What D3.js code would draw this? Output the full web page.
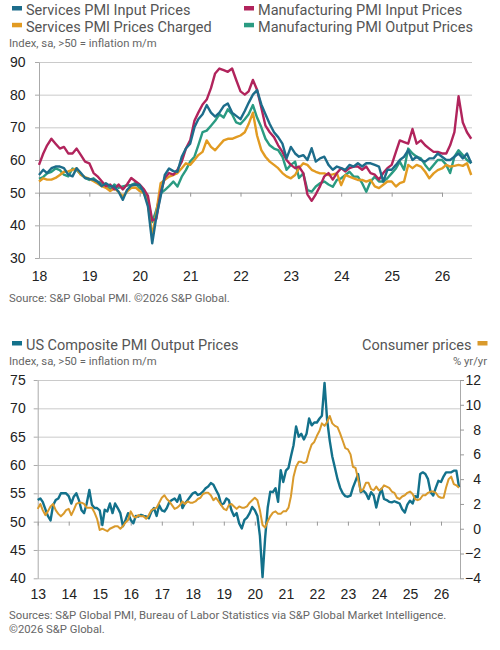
<!DOCTYPE html>
<html>
<head>
<meta charset="utf-8">
<script src="https://cdn.jsdelivr.net/npm/d3@7"></script>
<style>
  body { margin: 0; background: #fff; }
  svg { display: block; font-family: "Liberation Sans", Arial, sans-serif; }
  .legend { font-family: Roboto, sans-serif; font-size: 14.5px; fill: #555; }
  .note { font-family: Roboto, sans-serif; font-size: 11.3px; fill: #666; }
  .tick text { font-size: 14px; fill: #222; }
</style>
</head>
<body>
<div id="chart"></div>
<script>
// tick labels
var topYears = ["18", "19", "20", "21", "22", "23", "24", "25", "26"];
var bottomYears = ["13", "14", "15", "16", "17", "18", "19", "20", "21", "22", "23", "24", "25", "26"];
var topYTicks = [30, 40, 50, 60, 70, 80, 90];
var pmiTicks = [40, 45, 50, 55, 60, 65, 70, 75];
var cpiTicks = [-4, -2, 0, 2, 4, 6, 8, 10, 12];

// top panel, monthly Jan 2018 - Aug 2026
var servicesInput = [
  55.4, 57, 56, 57.5, 58, 58, 57.5, 55.5, 55, 57.5, 56, 54.5,
  54.2, 54, 53.4, 52, 52.9, 52, 51.9, 50.3, 47.8, 50.8, 52.2, 52.5,
  52.4, 49.8, 45.7, 34.5, 42.7, 48.8, 55.4, 57.4, 56.6, 56.4, 61, 63.5,
  65, 70, 72.5, 74, 76.8, 74.5, 73.3, 74.5, 76.5, 77.3, 74.5, 73.5,
  72.5, 75, 77.5, 80, 81.4, 77, 74, 71, 68.5, 67, 65, 60.5,
  64, 62, 61, 61.5, 60, 63.6, 59.5, 60.5, 61, 58.5, 57, 58,
  57.5, 57, 58.5, 58, 59, 58, 59, 59, 58.5, 58, 53.4, 57,
  57, 58.5, 60, 61, 63, 60, 61, 60, 59.5, 60.5, 60.5, 62,
  61, 60, 60, 61, 62, 60.5, 62, 59
];
var servicesCharged = [
  53.4, 54.4, 54, 54, 54.5, 55.4, 56.4, 56.5, 57, 57.4, 55.4, 54.8,
  54.2, 53.5, 52.8, 52, 51.5, 50.5, 51.3, 50.3, 48.8, 50.3, 51.5, 51.6,
  50.5, 49.8, 46.8, 36.6, 44, 52.9, 53.9, 54.9, 55.4, 56, 57.5, 59,
  58.5, 60, 61.5, 62.5, 66, 64, 63, 64.5, 66, 66.5, 66.5, 67,
  67.5, 68.5, 71, 74.5, 67.5, 63, 61, 59.5, 58.5, 57.5, 56, 55,
  54.4, 55.4, 57.5, 59, 58.5, 57, 56.4, 55.9, 55.9, 55.4, 55.6, 55.9,
  52.3, 55.4, 54.9, 54.4, 53.9, 53.9, 53.4, 53.9, 51.9, 51.4, 52.4, 53.4,
  53.4, 51.9, 52.9, 53.4, 58.5, 57.5, 58.5, 58, 56.4, 54.4, 55.9, 56.9,
  57.4, 58.5, 58, 58.2, 58.5, 58.2, 59, 55.4
];
var mfgInput = [
  58.5, 62, 64.5, 66.5, 65, 63.5, 64, 62, 62, 63.5, 61.5, 59.5,
  59, 56, 55, 53.5, 52, 52.5, 51, 52.5, 51, 52.5, 54.5, 53.5,
  52.5, 51, 49, 41.5, 42, 50, 54.5, 56, 55.5, 57, 59.5, 63.5,
  66, 72, 74.5, 77, 78.5, 82, 86.5, 88, 87.5, 87, 88, 84.5,
  81, 80, 81, 84.5, 81.5, 76, 70.5, 68.5, 67, 64.5, 62.5, 60,
  58.5, 57.5, 58, 56, 49.5, 47.5, 49.5, 52, 55, 56, 54, 56,
  57.5, 56.5, 57.5, 58, 58, 57, 58, 56, 55.5, 54, 56, 57.5,
  58.5, 62.5, 66, 65.5, 65, 69.5, 65, 66, 64.5, 63.5, 62.5, 62.5,
  62, 62, 64.5, 68.5, 79.5, 71.5, 68.5, 66.5
];
var mfgOutput = [
  54.2, 54.8, 55.9, 56.4, 57.4, 56.9, 55.5, 55, 57.4, 56.9, 55.6, 54.5,
  53.9, 54.4, 53.4, 52.9, 52.4, 51, 52.5, 51.5, 51.9, 52.2, 52.4, 52.9,
  51.3, 50.8, 47.8, 41, 44.7, 49.8, 50.8, 52, 53.4, 51.9, 54.9, 56.9,
  59.5, 61, 64.5, 68.5, 69, 70.5, 72, 74, 73, 75.5, 74, 71.5,
  71, 72.5, 74, 76.8, 73, 70, 66.5, 64.5, 63.5, 63, 61, 57,
  58.5, 59.5, 54.5, 55.9, 50.8, 50.3, 51.9, 52.9, 53.4, 52.5, 51.8, 53.9,
  54.4, 55.4, 56.4, 54.9, 54.9, 52.9, 50.3, 53.4, 54.9, 53.4, 53.4, 54.4,
  55.9, 57.4, 59.5, 57, 63.5, 62, 61, 60.5, 58.5, 56.9, 58.5, 60,
  60, 58.5, 56, 61, 63, 61.5, 60, 59
];

// bottom panel, monthly Jan 2013 - Aug 2026
var usCompositeOutput = [
  53.8, 54.1, 53.5, 52.2, 51, 50.2, 52.9, 53.8, 54.1, 55, 55, 55,
  54.5, 53.2, 54.4, 55, 53.8, 52, 51.5, 53.2, 55.6, 53, 52.4, 52.4,
  52, 49.4, 52.1, 51.8, 53.2, 51.5, 53.2, 52.4, 51.5, 49.2, 50.3, 51.5,
  50.3, 49.7, 51, 50.9, 51.2, 51, 50.9, 50.6, 51.8, 52.4, 51, 52.9,
  52, 51.8, 52.4, 53.5, 53.8, 54.1, 53.5, 54.7, 52.4, 53.2, 53.8, 54.4,
  55, 55.2, 54.7, 54.9, 55.3, 55.9, 56.2, 56.8, 56.5, 55.6, 54.7, 53,
  53.2, 54.1, 53.8, 52, 51, 51.5, 49.7, 48.8, 50.3, 50.7, 51.5, 52.6,
  52, 51, 47.5, 40.2, 47, 52.5, 55.3, 55.2, 55.9, 53.5, 59.1, 57,
  59, 59.5, 61.5, 63.5, 66.8, 65, 65.5, 64.5, 65.5, 68.2, 67, 67.5,
  67.5, 68.2, 68.7, 74.5, 68, 64.3, 61.5, 59.5, 57.5, 56, 55, 54.5,
  54.4, 54.6, 56, 57.2, 58.4, 55.2, 55.5, 55, 54, 55.2, 54.6, 52.5,
  54.5, 55.8, 54, 53.8, 53.5, 53.4, 53.6, 53.4, 53.2, 52.2, 51.6, 53,
  53.7, 53.2, 54.5, 54.3, 58.4, 58.7, 58.4, 57.5, 55.2, 54.6, 56, 57.2,
  57, 58, 58.7, 58.7, 58.7, 59, 59, 56.1
];
var consumerPrices = [
  1.6, 2.0, 1.5, 1.1, 1.4, 1.8, 2.0, 1.5, 1.2, 1.0, 1.2, 1.5,
  1.6, 1.1, 1.5, 2.0, 2.1, 2.1, 2.0, 1.7, 1.7, 1.7, 1.3, 0.8,
  -0.1, 0.0, -0.1, -0.2, 0.0, 0.1, 0.2, 0.2, 0.0, 0.2, 0.5, 0.7,
  1.4, 1.0, 0.9, 1.1, 1.0, 1.0, 0.8, 1.1, 1.5, 1.6, 1.7, 2.1,
  2.5, 2.7, 2.4, 2.2, 1.9, 1.6, 1.7, 1.9, 2.2, 2.0, 2.2, 2.1,
  2.1, 2.2, 2.4, 2.5, 2.8, 2.9, 2.9, 2.7, 2.3, 2.5, 2.2, 1.9,
  1.6, 1.5, 1.9, 2.0, 1.8, 1.6, 1.8, 1.7, 1.7, 1.8, 2.1, 2.3,
  2.5, 2.3, 1.5, 0.3, 0.1, 0.6, 1.0, 1.3, 1.4, 1.2, 1.2, 1.4,
  1.4, 1.7, 2.6, 4.2, 5.0, 5.4, 5.4, 5.3, 5.4, 6.2, 6.8, 7.0,
  7.5, 7.9, 8.5, 8.3, 8.6, 9.1, 8.5, 8.3, 8.2, 7.7, 7.1, 6.5,
  6.4, 6.0, 5.0, 4.9, 4.0, 3.0, 3.2, 3.7, 3.7, 3.2, 3.1, 3.4,
  3.1, 3.2, 3.5, 3.4, 3.3, 3.0, 2.9, 2.5, 2.4, 2.6, 2.7, 2.9,
  3.0, 2.8, 2.4, 2.3, 2.4, 2.7, 2.7, 2.9, 3.0, 3.0, 2.9, 2.6,
  2.5, 2.5, 3.3, 4.0, 4.2, 3.6, 3.5, 3.3
];

var colors = {
  servicesInput: "#1d6d8b",
  servicesCharged: "#e29b22",
  mfgInput: "#b1245c",
  mfgOutput: "#2a9b82",
  pmi: "#13718b",
  cpi: "#d99a2c"
};

function monthDates(startYear, n) {
  return d3.range(n).map(function (i) { return new Date(startYear, i, 1); });
}

function yearDates(labels) {
  return labels.map(function (l) { return new Date(2000 + (+l), 0, 1); });
}

var svg = d3.select("#chart").append("svg")
  .attr("width", 500)
  .attr("height", 650);

function legendItem(x, y, color, label, anchor) {
  var g = svg.append("g");
  g.append("text")
    .attr("class", "legend")
    .attr("x", x)
    .attr("y", y)
    .attr("text-anchor", anchor || "start")
    .text(label);
  var sx = anchor === "end" ? x + 6 : x - 14;
  g.append("rect")
    .attr("x", sx).attr("y", y - 9)
    .attr("width", 10).attr("height", 4.5)
    .attr("fill", color);
}

/* ---------- top panel ---------- */
var topLeft = 39, topRight = 472;
var topDates = monthDates(2018, servicesInput.length);

var xTop = d3.scaleTime()
  .domain([new Date(2018, 0, 1), new Date(2026, 0, 1)])
  .range([topLeft, 442]);

var yTop = d3.scaleLinear()
  .domain([30, 90])
  .range([258, 62]);

legendItem(26, 15, colors.servicesInput, "Services PMI Input Prices");
legendItem(26, 31.8, colors.servicesCharged, "Services PMI Prices Charged");
legendItem(258, 15, colors.mfgInput, "Manufacturing PMI Input Prices");
legendItem(258, 31.8, colors.mfgOutput, "Manufacturing PMI Output Prices");

svg.append("text").attr("class", "note")
  .attr("x", 9).attr("y", 46.5)
  .text("Index, sa, >50 = inflation m/m");

// gridlines
svg.append("g")
  .attr("transform", "translate(" + topLeft + ",0)")
  .call(d3.axisLeft(yTop).tickValues(topYTicks).tickSize(-(topRight - topLeft)).tickFormat(""))
  .call(function (g) { g.select(".domain").remove(); })
  .selectAll("line").attr("stroke", "#cacaca");

// left axis
svg.append("g")
  .attr("transform", "translate(" + topLeft + ",0)")
  .call(d3.axisLeft(yTop).tickValues(topYTicks).tickSizeInner(4).tickSizeOuter(0).tickPadding(9.5))
  .call(function (g) {
    g.select(".domain").attr("stroke", "#aaa");
    g.selectAll("line").attr("stroke", "#aaa");
  });

// year ticks on the 50 line
svg.append("g")
  .attr("transform", "translate(0," + yTop(50) + ")")
  .call(d3.axisBottom(xTop).tickValues(yearDates(topYears)).tickSize(4).tickFormat(""))
  .call(function (g) {
    g.select(".domain").attr("stroke", "#aaa");
    g.selectAll("line").attr("stroke", "#999");
  });

// year labels
svg.append("g")
  .attr("transform", "translate(0,271)")
  .call(d3.axisBottom(xTop).tickValues(yearDates(topYears)).tickSize(0).tickPadding(0)
    .tickFormat(function (d, i) { return topYears[i]; }))
  .call(function (g) { g.select(".domain").remove(); });

var topLine = function (values) {
  return d3.line()
    .x(function (d, i) { return xTop(topDates[i]); })
    .y(function (d) { return yTop(d); })(values);
};

[
  [mfgOutput, colors.mfgOutput],
  [servicesCharged, colors.servicesCharged],
  [mfgInput, colors.mfgInput],
  [servicesInput, colors.servicesInput]
].forEach(function (s) {
  svg.append("path")
    .attr("fill", "none")
    .attr("stroke", s[1])
    .attr("stroke-width", 2.4)
    .attr("stroke-linejoin", "round")
    .attr("d", topLine(s[0]));
});

svg.append("text").attr("class", "note")
  .attr("x", 9).attr("y", 302)
  .text("Source: S&P Global PMI. \u00a92026 S&P Global.");

/* ---------- bottom panel ---------- */
var botLeft = 37.7, botRight = 460;
var botDates = monthDates(2013, usCompositeOutput.length);

var xBot = d3.scaleTime()
  .domain([new Date(2013, 0, 1), new Date(2026, 0, 1)])
  .range([botLeft, 441]);

var yPmi = d3.scaleLinear()
  .domain([40, 75])
  .range([578.3, 380]);

var yCpi = d3.scaleLinear()
  .domain([-4, 12])
  .range([578.3, 380]);

legendItem(26, 350, colors.pmi, "US Composite PMI Output Prices");
legendItem(471.5, 350, colors.cpi, "Consumer prices", "end");

svg.append("text").attr("class", "note")
  .attr("x", 9).attr("y", 365)
  .text("Index, sa, >50 = inflation m/m");
svg.append("text").attr("class", "note")
  .attr("x", 487).attr("y", 365)
  .attr("text-anchor", "end")
  .text("% yr/yr");

svg.append("g")
  .attr("transform", "translate(" + botLeft + ",0)")
  .call(d3.axisLeft(yPmi).tickValues(pmiTicks).tickSize(-(botRight - botLeft)).tickFormat(""))
  .call(function (g) { g.select(".domain").remove(); })
  .selectAll("line").attr("stroke", "#cacaca");

svg.append("g")
  .attr("transform", "translate(" + botLeft + ",0)")
  .call(d3.axisLeft(yPmi).tickValues(pmiTicks).tickSizeInner(4).tickSizeOuter(0).tickPadding(8))
  .call(function (g) {
    g.select(".domain").attr("stroke", "#aaa");
    g.selectAll("line").attr("stroke", "#aaa");
  });

svg.append("g")
  .attr("transform", "translate(" + botRight + ",0)")
  .call(d3.axisRight(yCpi).tickValues(cpiTicks).tickSizeInner(4).tickSizeOuter(0).tickPadding(17))
  .call(function (g) {
    g.select(".domain").attr("stroke", "#aaa");
    g.selectAll("line").attr("stroke", "#999");
    g.selectAll("text").attr("text-anchor", "end");
  });

svg.append("g")
  .attr("transform", "translate(0," + yPmi(50) + ")")
  .call(d3.axisBottom(xBot).tickValues(yearDates(bottomYears)).tickSize(4).tickFormat(""))
  .call(function (g) {
    g.select(".domain").remove();
    g.selectAll("line").attr("stroke", "#999");
  });

svg.append("g")
  .attr("transform", "translate(0,589)")
  .call(d3.axisBottom(xBot).tickValues(yearDates(bottomYears)).tickSize(0).tickPadding(0)
    .tickFormat(function (d, i) { return bottomYears[i]; }))
  .call(function (g) { g.select(".domain").remove(); });

svg.append("path")
  .attr("fill", "none")
  .attr("stroke", colors.pmi)
  .attr("stroke-width", 2.4)
  .attr("stroke-linejoin", "round")
  .attr("d", d3.line()
    .x(function (d, i) { return xBot(botDates[i]); })
    .y(function (d) { return yPmi(d); })(usCompositeOutput));

svg.append("path")
  .attr("fill", "none")
  .attr("stroke", colors.cpi)
  .attr("stroke-width", 2)
  .attr("stroke-linejoin", "round")
  .attr("d", d3.line()
    .x(function (d, i) { return xBot(botDates[i]); })
    .y(function (d) { return yCpi(d); })(consumerPrices));

svg.append("text").attr("class", "note")
  .attr("x", 9).attr("y", 618.5)
  .text("Sources: S&P Global PMI, Bureau of Labor Statistics via S&P Global Market Intelligence.");
svg.append("text").attr("class", "note")
  .attr("x", 9).attr("y", 632.5)
  .text("\u00a92026 S&P Global.");
</script>
</body>
</html>
